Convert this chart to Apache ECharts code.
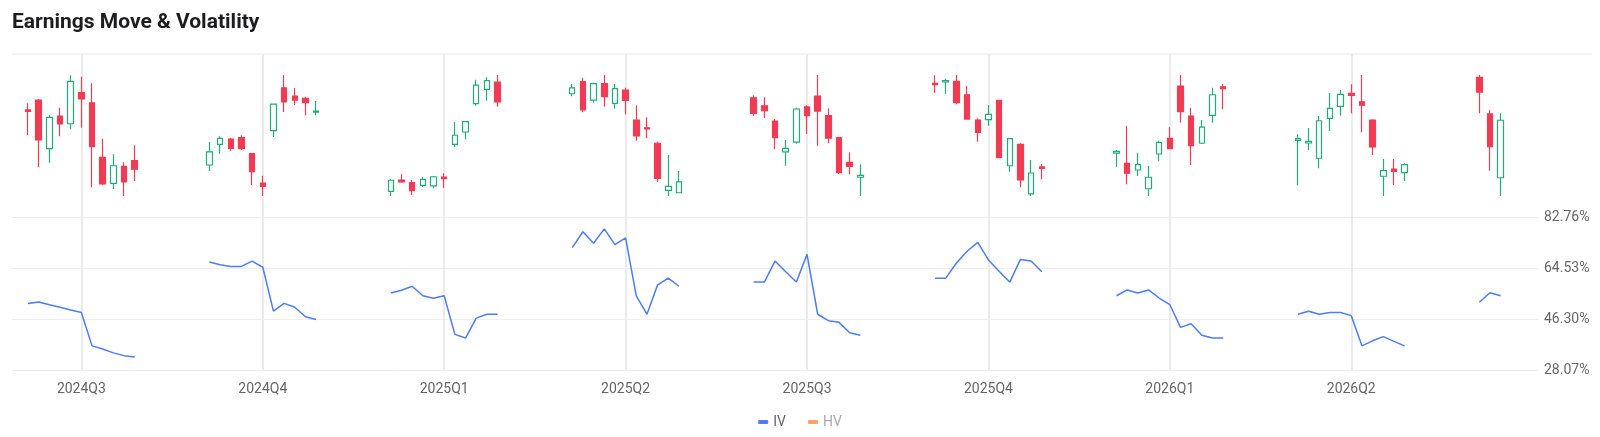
<!DOCTYPE html>
<html>
<head>
<meta charset="utf-8">
<title>Earnings Move & Volatility</title>
<script src="https://cdn.jsdelivr.net/npm/echarts@6/dist/echarts.min.js"></script>
<style>
html, body { margin: 0; padding: 0; background: #fff; }
#main { width: 1600px; height: 437px; }
</style>
</head>
<body>
<div id="main"></div>
<script>
// earnings quarters (the last one is upcoming, only a few days before it)
var quarters = ['2024Q3', '2024Q4', '2025Q1', '2025Q2', '2025Q3', '2025Q4', '2026Q1', '2026Q2', '2026Q3'];
var shownQuarters = 8;      // 2026Q3 has no label / line yet
var daysAround = 5;         // 5 days before and after the earnings day
var slotsPerQuarter = 17;   // 11 trading days + 6 empty slots

// price move around each earnings day, normalised 0..100 per window : [open, close, low, high]
var candles2024Q3 = [[71.1,70.0,50.4,76.6],[79.3,46.3,23.7,80.2],[39.1,65.0,27.5,66.7],[66.1,59.5,49.3,73.0],[59.7,94.8,55.1,99.7],[85.4,80.2,56.4,98.6],[76.9,40.7,7.2,93.1],[32.0,9.9,9.1,47.4],[10.5,25.0,5.8,34.5],[24.5,11.6,0,27.8],[29.2,22.1,12.4,41.9]];
var candles2024Q4 = [[25.6,36.4,20.7,44.6],[42.7,47.7,35.0,49.3],[47.1,39.4,37.4,47.9],[48.2,39.1,38.0,50.2],[35.0,20.1,9.1,35.0],[10.7,8.0,0,16.8],[54.0,76.0,48.8,76.0],[89.3,77.7,69.4,100],[82.6,79.3,75.2,89.3],[80.7,77.1,66.7,82.1],[69.2,70.2,66.7,78.5]];
var candles2025Q1 = [[3.9,13.0,0,14.0],[13.2,11.6,11.0,17.9],[11.0,4.4,0.8,13.2],[8.8,13.8,7.4,15.5],[8.3,15.9,6.4,16.5],[15.7,14.3,6.9,18.8],[42.7,50.2,40.5,61.2],[52.9,61.4,46.9,61.4],[76.3,91.7,74.6,96.1],[88.2,95.3,78.8,98.1],[94.2,77.7,73.8,100]];
var candles2025Q2 = [[84.5,89.3,82.4,92.6],[94.5,71.1,69.2,97.8],[79.3,92.8,77.1,93.6],[92.8,82.1,73.8,100],[76.6,88.7,72.1,92.6],[87.6,79.1,67.5,89.5],[62.8,49.6,45.7,75.0],[56.4,55.4,47.7,65.0],[43.6,14.6,11.6,44.9],[4.7,8.0,0,33.9],[2.7,11.6,2.7,20.7]];
var candles2025Q3 = [[81.2,68.3,66.1,83.2],[74.6,70.5,64.5,81.6],[62.0,48.2,38.6,63.6],[36.4,39.4,25.0,46.3],[44.6,71.9,43.2,73.0],[73.6,66.4,51.2,75.0],[82.6,70.2,41.6,100],[66.4,47.9,43.6,72.5],[48.2,19.3,18.2,48.2],[27.8,24.5,17.9,36.1],[15.5,17.1,0,26.2]];
var candles2025Q4 = [[93.1,92.0,85.4,99.7],[94.2,95.3,84.3,96.9],[94.8,77.1,75.8,100],[83.7,63.6,63.6,90.9],[62.8,52.6,44.9,64.2],[63.1,67.5,58.1,75.2],[79.1,31.7,31.7,79.1],[25.0,47.4,20.1,47.4],[42.7,13.2,7.2,43.6],[1.7,19.0,0,29.8],[24.0,22.9,13.8,26.4]];
var candles2026Q1 = [[35.5,36.9,23.7,38.0],[27.0,18.8,9.7,57.9],[21.5,25.9,16.5,35.8],[6.0,15.5,0,24.8],[34.7,44.4,28.7,45.7],[47.7,39.1,39.1,56.8],[90.9,69.7,60.6,100],[66.1,41.6,25.6,73.0],[43.6,57.0,43.0,62.8],[66.7,83.7,60.6,89.5],[90.3,88.7,71.6,92.6]];
var candles2026Q2 = [[46.0,47.4,8.8,51.0],[43.8,45.2,38.0,56.2],[31.2,62.2,22.9,66.1],[64.2,72.5,53.7,85.1],[74.1,84.0,66.4,87.6],[84.9,83.2,68.3,92.3],[77.9,75.0,52.6,100],[62.8,40.5,33.9,63.4],[16.3,20.9,0,30.6],[22.3,20.4,9.1,30.6],[19.3,25.9,12.4,27.0]];
var candles2026Q3 = [[98.1,85.9,68.3,100],[67.8,40.7,20.9,70.8],[15.1,62.6,0,68.3]];

// implied volatility (%) on the same days
var iv2024Q3 = [51.8,52.4,51.4,50.5,49.5,48.6,36.7,35.6,34.2,33.2,32.7];
var iv2024Q4 = [66.7,65.7,65.1,65.1,67.0,64.8,49.1,51.9,50.5,47.1,46.1];
var iv2025Q1 = [55.6,56.6,58.0,54.6,53.7,54.6,40.8,39.5,46.6,48.0,48.0];
var iv2025Q2 = [71.8,77.5,73.4,78.5,72.9,75.3,54.6,48.0,58.5,60.9,58.0];
var iv2025Q3 = [59.5,59.5,67.0,63.2,59.5,69.4,48.0,45.7,45.1,41.4,40.5];
var iv2025Q4 = [60.9,60.9,66.3,70.5,73.7,67.4,63.4,59.5,67.6,67.0,63.2];
var iv2026Q1 = [54.6,56.7,55.6,56.7,53.8,51.4,43.3,44.6,40.5,39.5,39.5];
var iv2026Q2 = [48.0,49.1,48.0,48.6,48.6,47.5,36.7,38.5,40.0,38.3,36.7];
var iv2026Q3 = [52.3,55.7,54.6];

// IV axis ticks
var ivTicks = [28.07, 46.30, 64.53, 82.76];

var candleSets = [candles2024Q3, candles2024Q4, candles2025Q1, candles2025Q2, candles2025Q3, candles2025Q4, candles2026Q1, candles2026Q2, candles2026Q3];
var ivSets = [iv2024Q3, iv2024Q4, iv2025Q1, iv2025Q2, iv2025Q3, iv2025Q4, iv2026Q1, iv2026Q2, iv2026Q3];

var UP = '#1fae77', DOWN = '#f03b55';

// build category slots: one leading empty slot, then 17 slots per quarter
var total = 1 + slotsPerQuarter * (quarters.length - 1) + daysAround + 1;
var categories = [];
var candleData = [];
var ivData = [];
var earningsIdx = [];
for (var i = 0; i < total; i++) {
	var seg = Math.floor((i - 1) / slotsPerQuarter);
	var off = i - (1 + daysAround + slotsPerQuarter * seg);
	var q = quarters[seg] || 'pre';
	categories.push(off === 0 ? q : q + ' ' + (off > 0 ? '+' : '') + off);
	var j = off + daysAround;
	var c = (seg >= 0 && j >= 0 && j < candleSets[seg].length) ? candleSets[seg][j] : null;
	candleData.push(c ? c : ['-', '-', '-', '-']);
	var v = (seg >= 0 && j >= 0 && j < ivSets[seg].length) ? ivSets[seg][j] : '-';
	ivData.push(v);
	if (off === 0 && seg >= 0 && seg < shownQuarters) earningsIdx.push(i);
}

var vLines = earningsIdx.map(function (idx) { return { xAxis: idx }; });
function isEarnings(idx) { return earningsIdx.indexOf(idx) >= 0; }

var chart = echarts.init(document.getElementById('main'));
var option = {
	animation: false,
	textStyle: { fontFamily: 'Roboto, "Noto Sans", sans-serif' },
	title: {
		text: 'Earnings Move & Volatility',
		left: 12,
		top: 12,
		padding: 0,
		textStyle: { fontSize: 21, fontWeight: 'bold', color: '#1d1d1f' }
	},
	graphic: [{
		type: 'line',
		shape: { x1: 12, y1: 54, x2: 1592, y2: 54 },
		style: { stroke: '#f0f0f0', lineWidth: 1.5 },
		silent: true
	}],
	legend: {
		top: 410,
		left: 'center',
		icon: 'roundRect',
		itemWidth: 10,
		itemHeight: 4,
		itemGap: 22,
		textStyle: { fontSize: 14, color: '#666' },
		data: [{ name: 'IV' }, { name: 'HV', textStyle: { color: '#aaa' } }]
	},
	grid: [
		{ left: 12, right: 62, top: 54, height: 163 },
		{ left: 12, right: 62, top: 217, height: 153 }
	],
	xAxis: [{
		type: 'category', gridIndex: 0, data: categories, boundaryGap: true, show: false
	}, {
		type: 'category', gridIndex: 1, data: categories, boundaryGap: true,
		axisLine: { show: false },
		axisTick: { show: false },
		splitLine: { show: false },
		axisLabel: {
			interval: function (idx) { return isEarnings(idx); },
			formatter: function (val) { return val; },
			color: '#666',
			fontSize: 14,
			margin: 12
		}
	}],
	yAxis: [{
		type: 'value', gridIndex: 0, min: -17.36, max: 117.36, show: false, splitLine: { show: false }
	}, {
		type: 'value', gridIndex: 1, position: 'right',
		min: ivTicks[0], max: ivTicks[ivTicks.length - 1], interval: ivTicks[1] - ivTicks[0],
		axisLine: { show: false },
		axisTick: { show: false },
		axisLabel: {
			color: '#666', fontSize: 14, margin: 6,
			formatter: function (v) { return v.toFixed(2) + '%'; }
		},
		splitLine: { lineStyle: { color: '#efefef', width: 1 } }
	}],
	series: [{
		name: 'Move',
		type: 'candlestick',
		xAxisIndex: 0, yAxisIndex: 0,
		barWidth: 6,
		data: candleData,
		itemStyle: {
			color: '#fff', color0: DOWN,
			borderColor: UP, borderColor0: DOWN,
			borderWidth: 1.2
		},
		markLine: {
			silent: true, symbol: 'none', z: 1,
			label: { show: false },
			lineStyle: { color: '#ebebeb', width: 2, type: 'solid' },
			data: vLines
		}
	}, {
		name: 'IV',
		type: 'line',
		xAxisIndex: 1, yAxisIndex: 1,
		data: ivData,
		showSymbol: false,
		connectNulls: false,
		color: '#4d7cf6',
		lineStyle: { width: 1.5, color: '#4d7cf6' },
		markLine: {
			silent: true, symbol: 'none', z: 1,
			label: { show: false },
			lineStyle: { color: '#ebebeb', width: 2, type: 'solid' },
			data: vLines
		}
	}, {
		name: 'HV',
		type: 'line',
		xAxisIndex: 1, yAxisIndex: 1,
		data: [],
		showSymbol: false,
		color: '#f5a36e',
		lineStyle: { width: 1.5, color: '#f5a36e' }
	}]
};
chart.setOption(option);
</script>
</body>
</html>
